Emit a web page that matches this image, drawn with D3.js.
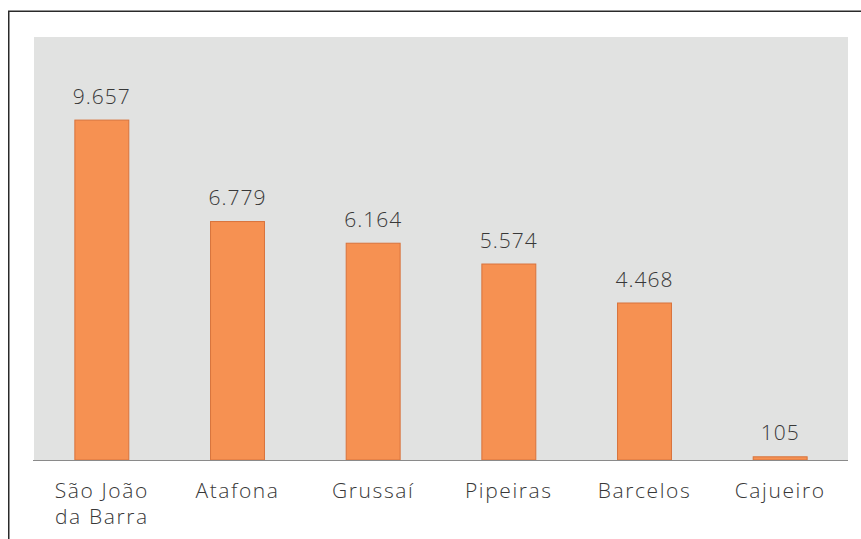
<!DOCTYPE html>
<html><head><meta charset="utf-8">
<script src="https://cdn.jsdelivr.net/npm/d3@7"></script>
<style>
html,body{margin:0;padding:0;background:#fff;}
svg{display:block;}
text{font-family:"Open Sans","Lato",sans-serif;font-weight:300;letter-spacing:1px;}
</style></head>
<body>
<svg id="c" width="861" height="539"></svg>
<script>
const categories = ["São João|da Barra", "Atafona", "Grussaí", "Pipeiras", "Barcelos", "Cajueiro"];
const values = [9657, 6779, 6164, 5574, 4468, 105];
const yDomain = [0, 12000];

const svg = d3.select("#c");
const W = 861, H = 539;
const plot = {left: 34, right: 848, top: 37, bottom: 460};

// frame
svg.append("rect").attr("x", 8.75).attr("y", 11.25).attr("width", W + 10).attr("height", H + 10)
  .attr("fill", "none").attr("stroke", "#2a2a2a").attr("stroke-width", 1.5);

// plot background
svg.append("rect").attr("x", plot.left).attr("y", plot.top)
  .attr("width", plot.right - plot.left).attr("height", plot.bottom - plot.top)
  .attr("fill", "#e1e2e1");

const x = d3.scaleBand().domain(categories).range([plot.left, plot.right])
  .paddingInner(0.595).paddingOuter(0.2975);
const y = d3.scaleLinear().domain(yDomain).range([plot.bottom, plot.top]);

const locale = d3.formatLocale({decimal: ",", thousands: ".", grouping: [3], currency: ["R$", ""]});
const fmt = locale.format(",d");

const data = categories.map((c, i) => ({c, v: values[i]}));

svg.append("g").selectAll("rect").data(data).join("rect")
  .attr("x", d => x(d.c) + 0.5)
  .attr("y", d => y(d.v) + 0.5)
  .attr("width", x.bandwidth() - 1)
  .attr("height", d => Math.max(0, y(0) - y(d.v) - 0.5))
  .attr("fill", "#f69152")
  .attr("stroke", "#d8733c")
  .attr("stroke-width", 1);

svg.append("g").selectAll("text").data(data).join("text")
  .attr("x", d => x(d.c) + x.bandwidth() / 2)
  .attr("y", d => y(d.v) - 16)
  .attr("text-anchor", "middle")
  .attr("fill", "#383838")
  .style("font-size", "21px")
  .text(d => fmt(d.v));

// baseline axis
const axis = d3.axisBottom(x).tickSize(0).tickPadding(0);
const gx = svg.append("g").attr("transform", `translate(0,${plot.bottom})`).call(axis);
gx.select(".domain").attr("stroke", "#8a8a8a").attr("stroke-width", 1.2)
  .attr("d", `M${plot.left - 1},0.5H${plot.right}`);
gx.selectAll(".tick text").each(function(d) {
  const t = d3.select(this);
  t.text(null).attr("y", 0).attr("dy", null)
    .attr("fill", "#383838").style("font-size", "21px").style("letter-spacing", "1.6px");
  d.split("|").forEach((line, i) => {
    t.append("tspan").attr("x", 0).attr("y", 38 + i * 26).text(line);
  });
});
</script>
</body></html>
